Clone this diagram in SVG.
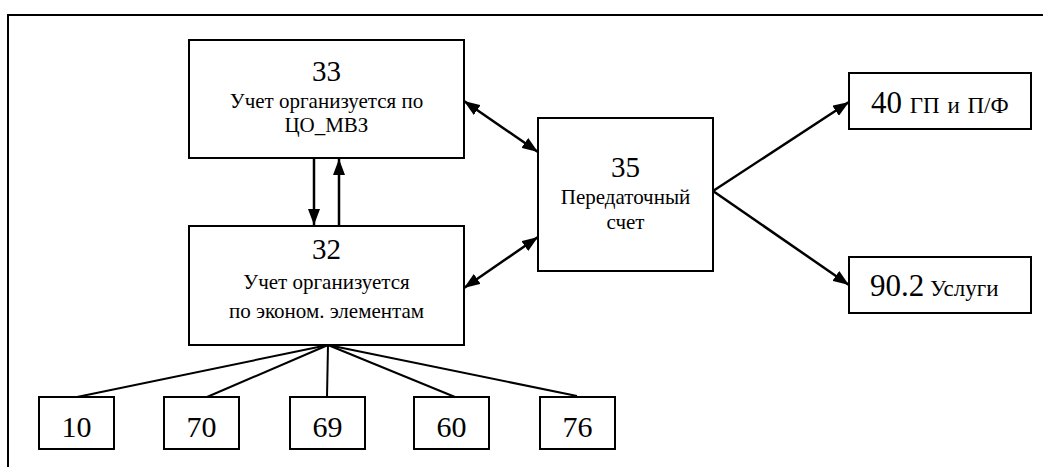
<svg xmlns="http://www.w3.org/2000/svg" width="1043" height="467" viewBox="0 0 1043 467">
<defs>
<marker id="ah" viewBox="0 0 16 12" refX="16" refY="6" markerWidth="16" markerHeight="12" markerUnits="userSpaceOnUse" orient="auto-start-reverse">
<path d="M0,0 L16,6 L0,12 z" fill="#000"/>
</marker>
</defs>
<rect width="1043" height="467" fill="#fff"/>
<g id="frame">
<path d="M8,467 L8,15 L1043,15" fill="none" stroke="#000" stroke-width="2"/>
</g>
<g id="connectors" stroke="#000" fill="none">
<line stroke-width="2.5" x1="314" y1="158" x2="314" y2="225" marker-end="url(#ah)"/>
<line stroke-width="2.5" x1="339" y1="226" x2="339" y2="159" marker-end="url(#ah)"/>
<line stroke-width="2.5" x1="464" y1="101" x2="538" y2="152" marker-start="url(#ah)" marker-end="url(#ah)"/>
<line stroke-width="2.5" x1="538" y1="237" x2="464" y2="288" marker-start="url(#ah)" marker-end="url(#ah)"/>
<line stroke-width="2.5" x1="713" y1="191" x2="849" y2="102" marker-end="url(#ah)"/>
<line stroke-width="2.5" x1="713" y1="191" x2="849" y2="285" marker-end="url(#ah)"/>
<line stroke-width="2" x1="328" y1="345" x2="77" y2="397"/>
<line stroke-width="2" x1="328" y1="345" x2="207" y2="397"/>
<line stroke-width="2" x1="328" y1="345" x2="327" y2="397"/>
<line stroke-width="2" x1="328" y1="345" x2="455" y2="397"/>
<line stroke-width="2" x1="328" y1="345" x2="577" y2="396"/>
</g>
<g id="n33">
<rect fill="#fff" stroke="#000" stroke-width="2" x="189" y="40" width="275" height="118"/>
<text font-family="Liberation Serif" font-size="29" text-anchor="middle" x="326.5" y="81">33</text>
<text font-family="Liberation Serif" font-size="21" text-anchor="middle" x="326.5" y="108">Учет организуется по</text>
<text font-family="Liberation Serif" font-size="21" text-anchor="middle" x="326.5" y="132">ЦО_МВЗ</text>
</g>
<g id="n32">
<rect fill="#fff" stroke="#000" stroke-width="2" x="189" y="226" width="275" height="119"/>
<text font-family="Liberation Serif" font-size="29" text-anchor="middle" x="326.5" y="259">32</text>
<text font-family="Liberation Serif" font-size="21" text-anchor="middle" x="326.5" y="289">Учет организуется</text>
<text font-family="Liberation Serif" font-size="21" text-anchor="middle" x="326.5" y="318">по эконом. элементам</text>
</g>
<g id="n35">
<rect fill="#fff" stroke="#000" stroke-width="2" x="538" y="118" width="175" height="153"/>
<text font-family="Liberation Serif" font-size="29" text-anchor="middle" x="625.5" y="177">35</text>
<text font-family="Liberation Serif" font-size="21" text-anchor="middle" x="625.5" y="204">Передаточный</text>
<text font-family="Liberation Serif" font-size="21" text-anchor="middle" x="625.5" y="229">счет</text>
</g>
<g id="n40">
<rect fill="#fff" stroke="#000" stroke-width="2" x="849" y="73" width="182" height="56"/>
<text font-family="Liberation Serif" x="871" y="113"><tspan font-size="31">40</tspan><tspan font-size="23" word-spacing="2"> ГП и П/Ф</tspan></text>
</g>
<g id="n902">
<rect fill="#fff" stroke="#000" stroke-width="2" x="849" y="257" width="182" height="56"/>
<text font-family="Liberation Serif" x="870" y="296"><tspan font-size="31">90.2</tspan><tspan font-size="23"> Услуги</tspan></text>
</g>
<g id="n10"><rect fill="#fff" stroke="#000" stroke-width="2" x="39" y="397" width="75" height="52"/><text font-family="Liberation Serif" font-size="30" text-anchor="middle" x="76.5" y="437">10</text></g>
<g id="n70"><rect fill="#fff" stroke="#000" stroke-width="2" x="164" y="397" width="75" height="52"/><text font-family="Liberation Serif" font-size="30" text-anchor="middle" x="201.5" y="437">70</text></g>
<g id="n69"><rect fill="#fff" stroke="#000" stroke-width="2" x="290" y="397" width="75" height="52"/><text font-family="Liberation Serif" font-size="30" text-anchor="middle" x="327.5" y="437">69</text></g>
<g id="n60"><rect fill="#fff" stroke="#000" stroke-width="2" x="414" y="397" width="75" height="52"/><text font-family="Liberation Serif" font-size="30" text-anchor="middle" x="451.5" y="437">60</text></g>
<g id="n76"><rect fill="#fff" stroke="#000" stroke-width="2" x="540" y="397" width="75" height="52"/><text font-family="Liberation Serif" font-size="30" text-anchor="middle" x="577.5" y="437">76</text></g>
</svg>
